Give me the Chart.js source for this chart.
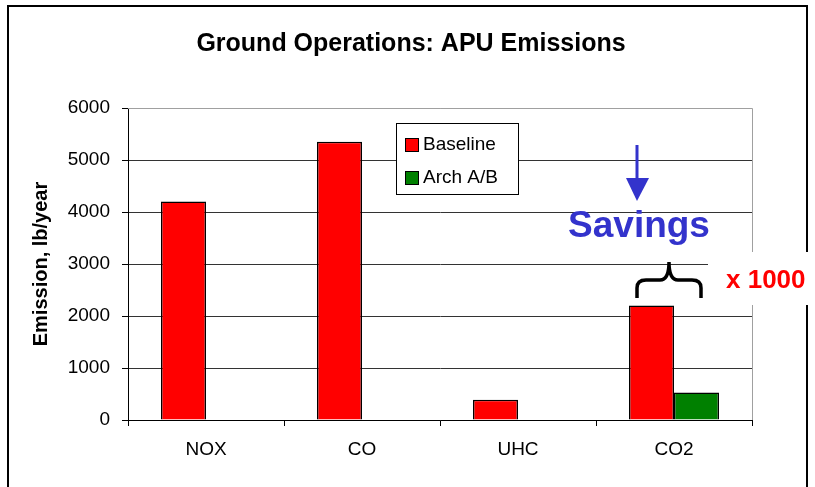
<!DOCTYPE html>
<html>
<head>
<meta charset="utf-8">
<script src="https://cdn.jsdelivr.net/npm/chart.js@4"></script>
<style>
  html, body { margin: 0; padding: 0; background: #fff; }
  #wrap { width: 815px; height: 487px; }
</style>
</head>
<body>
<div id="wrap"><canvas id="myChart" width="815" height="487"></canvas></div>
<script>
// chart values
const categories = ["NOX", "CO", "UHC", "CO2"];
const baseline = [4200, 5350, 390, 2200];
const archAB = [0, 0, 0, 530];
const yTicks = [0, 1000, 2000, 3000, 4000, 5000, 6000];
const seriesNames = ["Baseline", "Arch A/B"];
const seriesColors = ["#ff0000", "#008000"];

const FONT = "'Liberation Sans', Arial, sans-serif";
Chart.defaults.font.family = FONT;
Chart.defaults.color = "#000";

// draws the frame, title, legend box and the hand-made notes
const extras = {
  id: "extras",
  beforeDraw(chart) {
    const ctx = chart.ctx;
    ctx.save();
    ctx.fillStyle = "#fff";
    ctx.fillRect(0, 0, chart.width, chart.height);
    ctx.strokeStyle = "#000";
    ctx.lineWidth = 2;
    ctx.strokeRect(8, 6, 799, 520);
    ctx.fillStyle = "#000";
    ctx.font = "bold 25px " + FONT;
    ctx.textAlign = "center";
    ctx.textBaseline = "middle";
    ctx.fillText("Ground Operations: APU Emissions", 411, 44);
    ctx.restore();
  },
  afterDraw(chart) {
    const ctx = chart.ctx;
    const area = chart.chartArea;
    ctx.save();
    // plot area border (top and right are grey)
    ctx.strokeStyle = "#a0a0a0";
    ctx.lineWidth = 1;
    ctx.beginPath();
    ctx.moveTo(area.left, area.top + 0.5);
    ctx.lineTo(area.right + 0.5, area.top + 0.5);
    ctx.lineTo(area.right + 0.5, area.bottom);
    ctx.stroke();

    // legend box
    ctx.fillStyle = "#fff";
    ctx.fillRect(396, 123, 122, 71);
    ctx.strokeStyle = "#000";
    ctx.strokeRect(396.5, 123.5, 122, 71);
    ctx.font = "19px " + FONT;
    ctx.textAlign = "left";
    ctx.textBaseline = "middle";
    chart.data.datasets.forEach((ds, i) => {
      const y = 145 + i * 33;
      ctx.fillStyle = ds.backgroundColor;
      ctx.fillRect(405, y - 7, 13, 13);
      ctx.strokeRect(405.5, y - 6.5, 13, 13);
      ctx.fillStyle = "#000";
      ctx.fillText(ds.label, 423, y);
    });

    // arrow pointing at savings
    ctx.strokeStyle = "#3333cc";
    ctx.fillStyle = "#3333cc";
    ctx.lineWidth = 3;
    ctx.beginPath();
    ctx.moveTo(637, 145);
    ctx.lineTo(637, 182);
    ctx.stroke();
    ctx.beginPath();
    ctx.moveTo(626, 178);
    ctx.lineTo(649, 178);
    ctx.lineTo(637, 201);
    ctx.closePath();
    ctx.fill();
    ctx.font = "bold 37px " + FONT;
    ctx.textAlign = "center";
    ctx.textBaseline = "alphabetic";
    ctx.fillText("Savings", 639, 237);

    // curly brace over the CO2 bars
    ctx.strokeStyle = "#000";
    ctx.lineWidth = 3.5;
    ctx.beginPath();
    ctx.moveTo(637, 298);
    ctx.lineTo(637, 288);
    ctx.quadraticCurveTo(637, 280, 646, 280);
    ctx.lineTo(660, 280);
    ctx.quadraticCurveTo(669, 280, 669, 262);
    ctx.quadraticCurveTo(669, 280, 678, 280);
    ctx.lineTo(692, 280);
    ctx.quadraticCurveTo(701, 280, 701, 288);
    ctx.lineTo(701, 298);
    ctx.stroke();

    // white label box with "x 1000"
    ctx.fillStyle = "#fff";
    ctx.fillRect(708, 252, 107, 53);
    ctx.fillStyle = "#ff0000";
    ctx.font = "bold 26px " + FONT;
    ctx.textAlign = "left";
    ctx.textBaseline = "middle";
    ctx.fillText("x 1000", 726, 281);
    ctx.restore();
  }
};

const ctx = document.getElementById("myChart").getContext("2d");
const chart = new Chart(ctx, {
  type: "bar",
  data: {
    labels: categories,
    datasets: [
      {
        label: seriesNames[0],
        data: baseline,
        backgroundColor: seriesColors[0],
        borderColor: "#000",
        borderWidth: 1.5,
        categoryPercentage: 0.577,
        barPercentage: 1
      },
      {
        label: seriesNames[1],
        data: archAB,
        backgroundColor: seriesColors[1],
        borderColor: "#000",
        borderWidth: 1.5,
        categoryPercentage: 0.577,
        barPercentage: 1
      }
    ]
  },
  options: {
    responsive: false,
    animation: false,
    devicePixelRatio: 1,
    layout: { padding: { left: 0, right: 63, top: 108, bottom: 0 } },
    plugins: {
      legend: { display: false },
      tooltip: { enabled: false },
      title: { display: false }
    },
    scales: {
      x: {
        afterFit: (scale) => { scale.height = 67; },
        grid: {
          offset: true,
          drawOnChartArea: false,
          drawTicks: true,
          tickLength: 6,
          color: "#000"
        },
        border: { color: "#000", width: 1 },
        ticks: { font: { size: 19 }, padding: 12, color: "#000" }
      },
      y: {
        min: 0,
        max: 6000,
        afterFit: (scale) => { scale.width = 128; },
        afterBuildTicks: (scale) => {
          scale.ticks = yTicks.map((v) => ({ value: v }));
        },
        grid: {
          color: (c) => (c.tick && c.tick.value === 6000 ? "#a0a0a0" : "#333"),
          tickColor: "#000",
          tickLength: 6,
          lineWidth: 1
        },
        border: { color: "#000", width: 1 },
        ticks: {
          font: { size: 19 },
          padding: 12,
          color: "#000",
          callback: (v) => String(v)
        },
        title: {
          display: true,
          text: "Emission, lb/year",
          font: { size: 20, weight: "bold" },
          padding: { top: 29, bottom: 0 },
          color: "#000"
        }
      }
    }
  },
  plugins: [extras]
});
</script>
</body>
</html>
